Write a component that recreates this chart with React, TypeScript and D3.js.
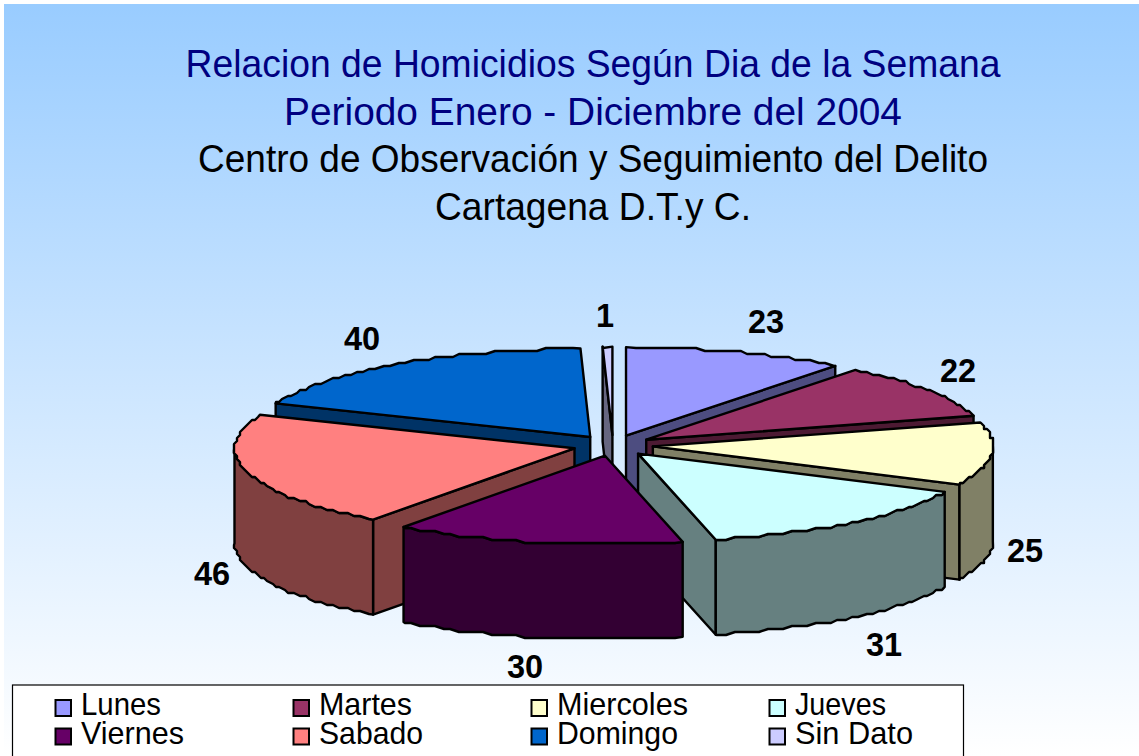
import React from "react";
import * as d3 from "d3";

const categories = ["Lunes", "Martes", "Miercoles", "Jueves", "Viernes", "Sabado", "Domingo", "Sin Dato"];
const values = [23, 22, 25, 31, 30, 46, 40, 1];
const topColors = ["#9999ff", "#993366", "#ffffcc", "#ccffff", "#660066", "#ff8080", "#0066cc", "#ccccff"];
const sideColors = ["#4d4d80", "#4d1a33", "#808066", "#668080", "#330033", "#804040", "#003366", "#666680"];
const titleLines = [
  { text: "Relacion de Homicidios Según Dia de la Semana", fill: "#000080", width: 815 },
  { text: "Periodo Enero - Diciembre del 2004", fill: "#000080", width: 618 },
  { text: "Centro de Observación y Seguimiento del Delito", fill: "#000000", width: 790 },
  { text: "Cartagena D.T.y C.", fill: "#000000", width: 316 },
];
const labelAnchors = [
  { dx: 766, dy: 323 }, { dx: 958, dy: 372 }, { dx: 1025, dy: 552 }, { dx: 884, dy: 646 },
  { dx: 525, dy: 668 }, { dx: 212, dy: 575 }, { dx: 362, dy: 340 }, { dx: 605, dy: 317 },
];
const legendWidths = [80, 93, 131, 91, 103, 104, 121, 118];
const drawOrder = [6, 7, 0, 1, 2, 5, 3, 4];

const W = 1139, H = 756;
const CX = 613, CY = 445.5, RX = 340, RY = 88.5, DEPTH = 95, EXPLODE = 40;
const STEP = (1.5 * Math.PI) / 180;
const GRID = 3;

const pieGen = d3.pie<number>().sort(null).startAngle(0).endAngle(2 * Math.PI);
const arcs = pieGen(values);

type P = [number, number];
const polyPath = d3.line<P>().x(d => d[0]).y(d => d[1]);
const closed = (pts: P[]) => (polyPath(pts) || "") + "Z";

function sample(a0: number, a1: number): number[] {
  const out = [a0];
  for (let a = Math.ceil(a0 / STEP) * STEP; a < a1; a += STEP) if (a > a0) out.push(a);
  out.push(a1);
  return out;
}

// The original's arcs are stair-stepped: snap inner rim points to a coarse grid.
const rimPoints = (angles: number[], pt: (a: number) => P): P[] =>
  angles.map((a, k) => {
    const p = pt(a);
    if (k === 0 || k === angles.length - 1) return p;
    return [Math.round(p[0] / GRID) * GRID, Math.round(p[1] / GRID) * GRID] as P;
  });

export default function App() {
  React.useLayoutEffect(() => {
    document.body.style.margin = "0";
    document.body.style.overflow = "hidden";
  }, []);

  const faces = drawOrder.map(i => {
    const { startAngle: s, endAngle: e } = arcs[i];
    const mid = (s + e) / 2;
    const ax = CX + EXPLODE * Math.sin(mid);
    const ay = CY - (EXPLODE * RY / RX) * Math.cos(mid);
    const pt = (a: number): P => [ax + RX * Math.sin(a), ay - RY * Math.cos(a)];
    const down = (p: P): P => [p[0], p[1] + DEPTH];
    const apex: P = [ax, ay];
    const top = closed([apex, ...rimPoints(sample(s, e), pt)]);
    const sides: string[] = [];
    if (Math.sin(s) < -1e-6) {
      const p = pt(s);
      sides.push(closed([apex, p, down(p), down(apex)]));
    }
    if (Math.sin(e) > 1e-6) {
      const p = pt(e);
      sides.push(closed([apex, p, down(p), down(apex)]));
    }
    const w0 = Math.max(s, Math.PI / 2), w1 = Math.min(e, (3 * Math.PI) / 2);
    if (w1 > w0) {
      const rim = rimPoints(sample(w0, w1), pt);
      sides.push(closed([...rim, ...rim.slice().reverse().map(down)]));
    }
    return { i, top, sides };
  });

  const legendX = d3.scalePoint<number>().domain([0, 1, 2, 3]).range([54, 768]);
  const legendY = d3.scalePoint<number>().domain([0, 1]).range([706, 734.5]);

  return (
    <svg width={W} height={H} viewBox={`0 0 ${W} ${H}`} style={{ display: "block", fontFamily: "'Liberation Sans', Arial, sans-serif" }}>
      <defs>
        <linearGradient id="bg" x1="0" y1="0" x2="0" y2="1">
          <stop offset="0" stopColor="#99ccff" />
          <stop offset="1" stopColor="#ffffff" />
        </linearGradient>
      </defs>
      <rect x={0} y={0} width={W} height={H} fill="#ffffff" />
      <rect x={4} y={4} width={W - 4} height={H - 4} fill="url(#bg)" />
      {titleLines.map((t, i) => (
        <text key={t.text} x={593} y={77 + i * 47.7} textAnchor="middle" fontSize={38.5} fill={t.fill}
          textLength={t.width} lengthAdjust="spacingAndGlyphs">{t.text}</text>
      ))}
      {faces.map(f => (
        <g key={f.i} stroke="#000" strokeWidth={2.4} strokeLinejoin="round">
          {f.sides.map((d, k) => <path key={k} d={d} fill={sideColors[f.i]} />)}
          <path d={f.top} fill={topColors[f.i]} />
        </g>
      ))}
      {values.map((v, i) => (
        <text key={i} x={labelAnchors[i].dx} y={labelAnchors[i].dy + 10} textAnchor="middle" fontSize={32.5} fontWeight="bold" fill="#000">{v}</text>
      ))}
      <rect x={12.5} y={685} width={951} height={90} fill="#fff" stroke="#000" strokeWidth={1.2} />
      {categories.map((c, i) => {
        const x = legendX(i % 4)!, y = legendY(Math.floor(i / 4))!;
        return (
          <g key={c}>
            <rect x={x + 1.5} y={y - 6} width={15.5} height={16} fill={topColors[i]} stroke="#000" strokeWidth={2} />
            <text x={x + 27} y={y + 9} fontSize={30.5} fill="#000" textLength={legendWidths[i]} lengthAdjust="spacingAndGlyphs">{c}</text>
          </g>
        );
      })}
    </svg>
  );
}
